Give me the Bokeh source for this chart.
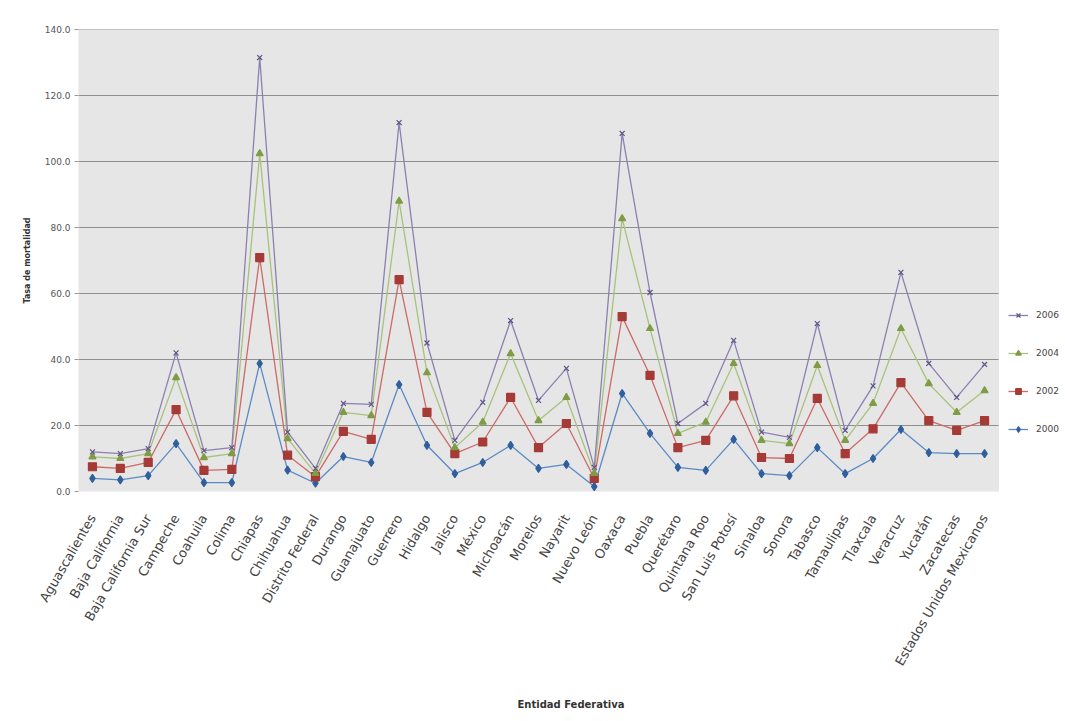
import numpy as np
from bokeh.plotting import figure
from bokeh.models import (Range1d, FixedTicker, NumeralTickFormatter, Legend,
                          LegendItem, ColumnDataSource, BoxAnnotation)
from bokeh.embed import file_html
from bokeh.resources import INLINE
import math

# ---------------- data ----------------
estados = ["Aguascalientes", "Baja California", "Baja California Sur", "Campeche", "Coahuila",
           "Colima", "Chiapas", "Chihuahua", "Distrito Federal", "Durango", "Guanajuato",
           "Guerrero", "Hidalgo", "Jalisco", "México", "Michoacán", "Morelos", "Nayarit",
           "Nuevo León", "Oaxaca", "Puebla", "Querétaro", "Quintana Roo", "San Luis Potosí",
           "Sinaloa", "Sonora", "Tabasco", "Tamaulipas", "Tlaxcala", "Veracruz", "Yucatán",
           "Zacatecas", "Estados Unidos Mexicanos"]

serie_2000 = [4.0, 3.5, 4.8, 14.5, 2.7, 2.7, 38.8, 6.5, 2.5, 10.6, 8.8, 32.4, 14.0, 5.4, 8.8,
              14.0, 7.0, 8.2, 1.5, 29.7, 17.6, 7.3, 6.4, 15.8, 5.4, 4.8, 13.3, 5.4, 10.0, 18.8,
              11.8, 11.5, 11.5]
serie_2002 = [3.5, 3.5, 4.0, 10.3, 3.7, 4.0, 32.1, 4.5, 2.0, 7.6, 7.0, 31.8, 10.0, 6.1, 6.2,
              14.5, 6.3, 12.4, 2.5, 23.3, 17.6, 6.0, 9.1, 13.2, 4.9, 5.2, 14.9, 6.1, 9.0, 14.2,
              9.7, 7.0, 10.0]
serie_2004 = [3.0, 3.0, 2.7, 9.7, 3.9, 4.8, 31.5, 5.0, 1.0, 5.8, 7.2, 23.8, 12.0, 1.8, 6.0,
              13.3, 8.2, 7.9, 1.5, 29.7, 14.2, 4.3, 5.5, 9.8, 5.2, 4.5, 10.0, 4.0, 7.7, 16.4,
              11.2, 5.5, 9.1]
serie_2006 = [1.5, 1.5, 1.5, 7.5, 2.1, 1.8, 29.1, 2.0, 1.5, 2.7, 3.4, 23.8, 9.0, 2.2, 6.0,
              10.0, 6.1, 8.8, 1.8, 25.8, 10.9, 3.0, 5.7, 7.0, 2.5, 1.9, 12.7, 3.0, 5.3, 17.0,
              6.1, 4.5, 7.9]

series_names = ["2000", "2002", "2004", "2006"]
y_ticks = [0, 20, 40, 60, 80, 100, 120, 140]
Y_MAX = 140

# stacked (Excel "stacked line") totals
stack = np.cumsum(np.array([serie_2000, serie_2002, serie_2004, serie_2006]), axis=0)

# ---------------- figure ----------------
n = len(estados)
xpos = np.arange(n) + 0.5          # category centres
# the frame also holds the legend area to the right of the plot area
p = figure(x_range=Range1d(0, n * 985.0 / 920.0), y_range=Range1d(0, Y_MAX),
           width=1065, height=713, output_backend="svg", toolbar_location=None,
           min_border_left=78, min_border_top=29, min_border_bottom=222, min_border_right=2)
p.border_fill_color = "white"
p.background_fill_color = "white"
p.outline_line_color = None

# plot area (grey) limited to the categories
p.add_layout(BoxAnnotation(left=0, right=n, bottom=0, top=Y_MAX, fill_color="#e6e6e6",
                           fill_alpha=1, line_color="#c8c8c8", line_width=1, level="underlay"))

# horizontal gridlines inside the plot area only
grid_src = ColumnDataSource(dict(x0=[0] * (len(y_ticks) - 1), x1=[n] * (len(y_ticks) - 1),
                                 y=y_ticks[1:]))
p.segment(x0="x0", x1="x1", y0="y", y1="y", source=grid_src, line_color="#8f8f8f",
          line_width=1)

line_colors = ["#5a8ac6", "#cc6a67", "#a9c27a", "#8b80b0"]
mark_colors = ["#2f5f9c", "#a63a37", "#7e9c45", "#5e5289"]
markers = ["diamond", "square", "triangle", "x"]
sizes = [8, 8, 7, 7]

items = []
for i in range(4):
    src = ColumnDataSource(dict(x=xpos, y=stack[i], estado=estados))
    ln = p.line("x", "y", source=src, line_color=line_colors[i], line_width=1.3)
    mk = p.scatter("x", "y", source=src, marker=markers[i], size=sizes[i],
                   fill_color=mark_colors[i], line_color=mark_colors[i], line_width=1.2)
    items.append(LegendItem(label=series_names[i], renderers=[ln, mk]))

legend = Legend(items=items[::-1], location=(930, 52), orientation="vertical",
                border_line_color=None, background_fill_alpha=0,
                label_text_font="DejaVu Sans", label_text_font_size="9px",
                label_text_color="#444444", glyph_width=20, glyph_height=14,
                label_height=20, spacing=18, padding=2, margin=0, label_standoff=8)
p.add_layout(legend, "center")

# axes
p.yaxis.ticker = FixedTicker(ticks=y_ticks)
p.yaxis.formatter = NumeralTickFormatter(format="0.0")
p.yaxis.major_label_text_font = "DejaVu Sans"
p.yaxis.major_label_text_font_size = "9px"
p.yaxis.major_label_text_color = "#555555"
p.yaxis.axis_line_color = None
p.yaxis.major_tick_line_color = "#999999"
p.yaxis.major_tick_out = 4
p.yaxis.major_tick_in = 0
p.yaxis.minor_tick_line_color = None
p.yaxis.major_label_standoff = 4
p.yaxis.axis_label = "Tasa de mortalidad"
p.yaxis.axis_label_text_font = "DejaVu Sans"
p.yaxis.axis_label_text_font_size = "8px"
p.yaxis.axis_label_text_font_style = "bold"
p.yaxis.axis_label_text_color = "#333333"
p.yaxis.axis_label_standoff = 10

p.xaxis.ticker = FixedTicker(ticks=list(xpos))
p.xaxis.major_label_overrides = {float(x): e for x, e in zip(xpos, estados)}
p.xaxis.major_label_orientation = math.pi / 3
p.xaxis.major_label_text_font = "DejaVu Sans"
p.xaxis.major_label_text_font_size = "13px"
p.xaxis.major_label_text_color = "#444444"
p.xaxis.axis_line_color = None
p.xaxis.major_tick_line_color = None
p.xaxis.minor_tick_line_color = None
p.xaxis.major_label_standoff = 18
p.xaxis.axis_label = "Entidad Federativa"
p.xaxis.axis_label_text_font = "DejaVu Sans"
p.xaxis.axis_label_text_font_size = "10px"
p.xaxis.axis_label_text_font_style = "bold"
p.xaxis.axis_label_text_color = "#333333"
p.xaxis.axis_label_standoff = 24

p.xgrid.grid_line_color = None
p.ygrid.grid_line_color = None

open("out.html", "w").write(file_html(p, INLINE))
